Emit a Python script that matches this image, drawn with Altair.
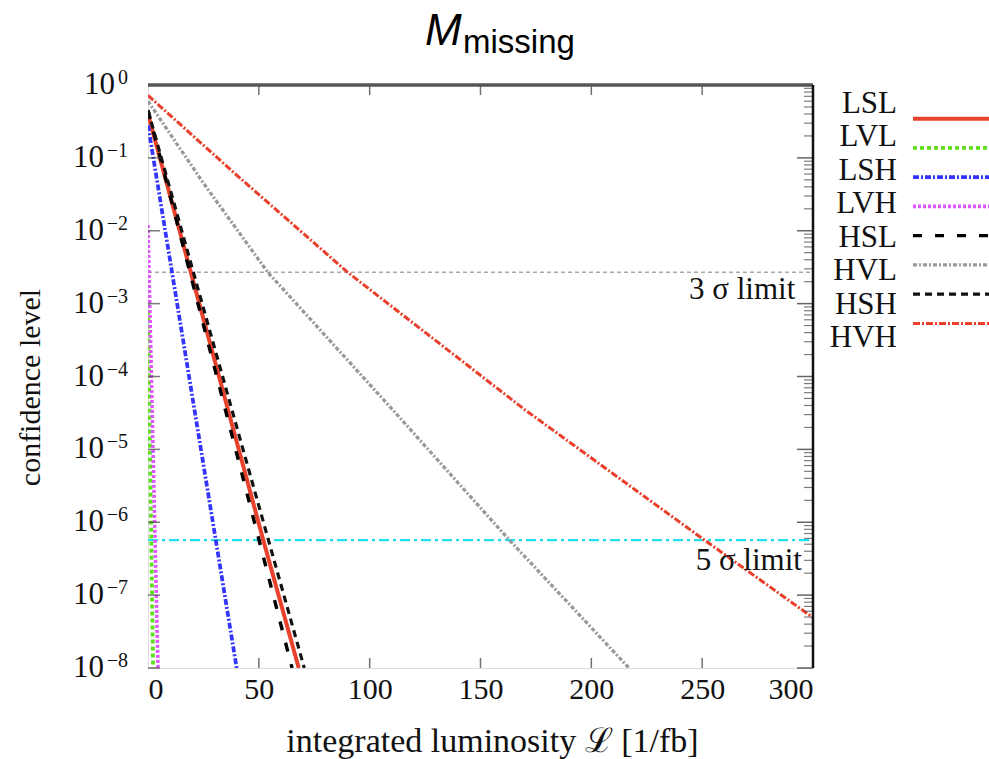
import altair as alt
import pandas as pd

SERIF = "Liberation Serif"
SANS = "Liberation Sans"

series_names = ["LSL", "LVL", "LSH", "LVH", "HSL", "HVL", "HSH", "HVH"]
series_colors = ["#e8412c", "#5fe01e", "#3434ff", "#e055ff", "#000000", "#999999", "#111111", "#ea3f2a"]
series_dash = [[1, 0], [4, 3], [6, 2, 2, 2], [3, 2], [9, 13], [4, 2, 2, 2], [7, 5], [7, 2, 2, 2]]
series_width = [4, 3, 3, 3, 2.5, 1.4, 3.2, 3]

# (x in 1/fb, y = confidence level)
lsl_x = [0, 52, 68]
lsl_y = [0.4, 5.7e-7, 1e-8]
lvl_x = [0, 2.3]
lvl_y = [1e-3, 1e-8]
lsh_x = [0, 40]
lsh_y = [0.28, 1e-8]
lvh_x = [0, 4.5]
lvh_y = [1.2e-2, 1e-8]
hsl_x = [0, 65]
hsl_y = [0.45, 1e-8]
hvl_x = [0, 25, 54, 110, 163, 217]
hvl_y = [0.6, 0.045, 2.7e-3, 3.6e-5, 5.7e-7, 1e-8]
hsh_x = [0, 70.5]
hsh_y = [0.45, 1e-8]
hvh_x = [0, 40, 90, 170, 250, 300]
hvh_y = [0.72, 0.058, 2.7e-3, 3.5e-5, 6.0e-7, 4.9e-8]

sigma3 = 2.7e-3
sigma5 = 5.7e-7

x_ticks = [0, 50, 100, 150, 200, 250, 300]
inner_x_ticks = [50, 100, 150, 200, 250]
decades = [1, 1e-1, 1e-2, 1e-3, 1e-4, 1e-5, 1e-6, 1e-7, 1e-8]
exponents = ["0", "\u22121", "\u22122", "\u22123", "\u22124", "\u22125", "\u22126", "\u22127", "\u22128"]
minor_ticks = [m * 10.0 ** (-e) for e in range(1, 9) for m in range(2, 10)]

xs = [lsl_x, lvl_x, lsh_x, lvh_x, hsl_x, hvl_x, hsh_x, hvh_x]
ys = [lsl_y, lvl_y, lsh_y, lvh_y, hsl_y, hvl_y, hsh_y, hvh_y]
rows = []
for name, xx, yy in zip(series_names, xs, ys):
    for a, b in zip(xx, yy):
        rows.append({"series": name, "x": a, "y": b})
df = pd.DataFrame(rows)

W, H = 665, 583
xscale = alt.Scale(domain=[0, 300], nice=False, zero=False)
yscale = alt.Scale(type="log", domain=[1e-8, 1], nice=False)
color = alt.Color("series:N", scale=alt.Scale(domain=series_names, range=series_colors), legend=None)
dash = alt.StrokeDash("series:N", scale=alt.Scale(domain=series_names, range=series_dash), legend=None)
swidth = alt.StrokeWidth("series:N", scale=alt.Scale(domain=series_names, range=series_width), legend=None)

lines = alt.Chart(df).mark_line(clip=True).encode(
    x=alt.X("x:Q", scale=xscale, axis=alt.Axis(
        values=x_ticks, ticks=False, domain=False, grid=False, labelFont=SERIF, labelFontSize=30,
        labelPadding=6, labelColor="#111", title="integrated luminosity \u2112  [1/fb]",
        titleFont=SERIF, titleFontSize=34, titleFontWeight="normal", titleColor="#111",
        titleX=344, titleY=73, titleBaseline="middle", titleAlign="center")),
    y=alt.Y("y:Q", scale=yscale, axis=alt.Axis(
        values=decades, labels=False, ticks=False, domain=False, grid=False,
        title="confidence level", titleFont=SERIF, titleFontSize=30, titleFontWeight="normal",
        titleColor="#111", titleX=-118, titleY=302, titleBaseline="middle", titleAlign="center",
        titleAngle=270)),
    color=color, strokeDash=dash, strokeWidth=swidth,
    order=alt.Order("x:Q"),
)

# y tick labels: "10" with a raised exponent
lab_df = pd.DataFrame({"v": decades, "e": exponents, "k": ["zero"] + ["neg"] * 8})
exp_lab = alt.Chart(lab_df).mark_text(align="right", baseline="middle", font=SERIF, fontSize=20,
                                      dx=-20, dy=-7, color="#111").encode(
    x=alt.datum(0), y=alt.Y("v:Q", scale=yscale), text="e:N")
ten_neg = alt.Chart(lab_df[lab_df.k == "neg"]).mark_text(align="right", baseline="middle", font=SERIF,
                                                         fontSize=31, dx=-44, color="#111").encode(
    x=alt.datum(0), y=alt.Y("v:Q", scale=yscale), text=alt.value("10"))
ten_zero = alt.Chart(lab_df[lab_df.k == "zero"]).mark_text(align="right", baseline="middle", font=SERIF,
                                                           fontSize=31, dx=-33, color="#111").encode(
    x=alt.datum(0), y=alt.Y("v:Q", scale=yscale), text=alt.value("10"))

lim_df = pd.DataFrame({"name": ["3s", "5s"], "y": [sigma3, sigma5]})
lim3 = alt.Chart(lim_df[lim_df.name == "3s"]).mark_rule(color="#aaaaaa", strokeDash=[4, 3], strokeWidth=1.6).encode(
    y=alt.Y("y:Q", scale=yscale), x=alt.datum(0), x2=alt.datum(300))
lim5 = alt.Chart(lim_df[lim_df.name == "5s"]).mark_rule(color="#22e0ea", strokeDash=[10, 4, 3, 4], strokeWidth=2.2).encode(
    y=alt.Y("y:Q", scale=yscale), x=alt.datum(0), x2=alt.datum(300))

ann_df = pd.DataFrame({"t": ["3 \u03c3 limit", "5 \u03c3 limit"], "x": [292, 295], "y": [1.55e-3, 2.9e-7]})
ann = alt.Chart(ann_df).mark_text(align="right", baseline="middle", font=SERIF, fontSize=31, color="#111").encode(
    x=alt.X("x:Q", scale=xscale), y=alt.Y("y:Q", scale=yscale), text="t:N")

tx_df = pd.DataFrame({"v": inner_x_ticks})
top_ticks = alt.Chart(tx_df).mark_tick(orient="vertical", size=10, thickness=1.5, color="#333", yOffset=5).encode(
    x=alt.X("v:Q", scale=xscale), y=alt.datum(1))
bot_ticks = alt.Chart(tx_df).mark_tick(orient="vertical", size=10, thickness=1.5, color="#333", yOffset=-5).encode(
    x=alt.X("v:Q", scale=xscale), y=alt.datum(1e-8))
dec_df = pd.DataFrame({"v": decades})
min_df = pd.DataFrame({"v": minor_ticks})
right_major = alt.Chart(dec_df).mark_tick(orient="horizontal", size=16, thickness=1.5, color="#222", xOffset=-8).encode(
    y=alt.Y("v:Q", scale=yscale), x=alt.datum(300))
right_minor = alt.Chart(min_df).mark_tick(orient="horizontal", size=9, thickness=1.2, color="#444", xOffset=-4.5).encode(
    y=alt.Y("v:Q", scale=yscale), x=alt.datum(300))
left_major = alt.Chart(dec_df).mark_tick(orient="horizontal", size=12, thickness=1.5, color="#444", xOffset=6).encode(
    y=alt.Y("v:Q", scale=yscale), x=alt.datum(0))

frame_df = pd.DataFrame({"a": [0]})
top_line = alt.Chart(frame_df).mark_rule(color="#555", strokeWidth=3.5).encode(
    x=alt.datum(0), x2=alt.datum(300), y=alt.datum(1))
right_line = alt.Chart(frame_df).mark_rule(color="#111", strokeWidth=2.5).encode(
    x=alt.datum(300), y=alt.datum(1e-8), y2=alt.datum(1))

title_df = pd.DataFrame({"a": [0]})
t_m = alt.Chart(title_df).mark_text(text="M", font=SANS, fontStyle="italic", fontSize=44, align="left",
                                    baseline="alphabetic", color="#000").encode(x=alt.value(277), y=alt.value(-40))
t_sub = alt.Chart(title_df).mark_text(text="missing", font=SANS, fontSize=33, align="left",
                                      baseline="alphabetic", color="#000").encode(x=alt.value(315), y=alt.value(-32))

main = alt.layer(lim3, lim5, lines, ann, exp_lab, ten_neg, ten_zero, top_ticks, bot_ticks,
                 right_major, right_minor, left_major, top_line, right_line, t_m, t_sub)

leg_df = pd.DataFrame({"series": series_names})
leg_y = alt.Y("series:N", scale=alt.Scale(domain=series_names, range=[19, 253], padding=0), axis=None)
leg_text = alt.Chart(leg_df).mark_text(align="right", baseline="middle", font=SERIF, fontSize=31, color="#111").encode(
    x=alt.value(749), y=leg_y, text="series:N")
leg_rule = alt.Chart(leg_df).mark_rule().encode(
    x=alt.value(765), x2=alt.value(860), y=leg_y, color=color, strokeDash=dash, strokeWidth=swidth)

chart = alt.layer(main, leg_text, leg_rule).resolve_scale(y="independent").properties(
    width=W, height=H,
    autosize=alt.AutoSizeParams(type="none"),
    padding={"left": 148, "top": 85, "right": 176, "bottom": 91},
).configure_view(stroke=None).configure(background="white")

chart.save("out.html", embed_options={"renderer": "svg", "actions": False})
